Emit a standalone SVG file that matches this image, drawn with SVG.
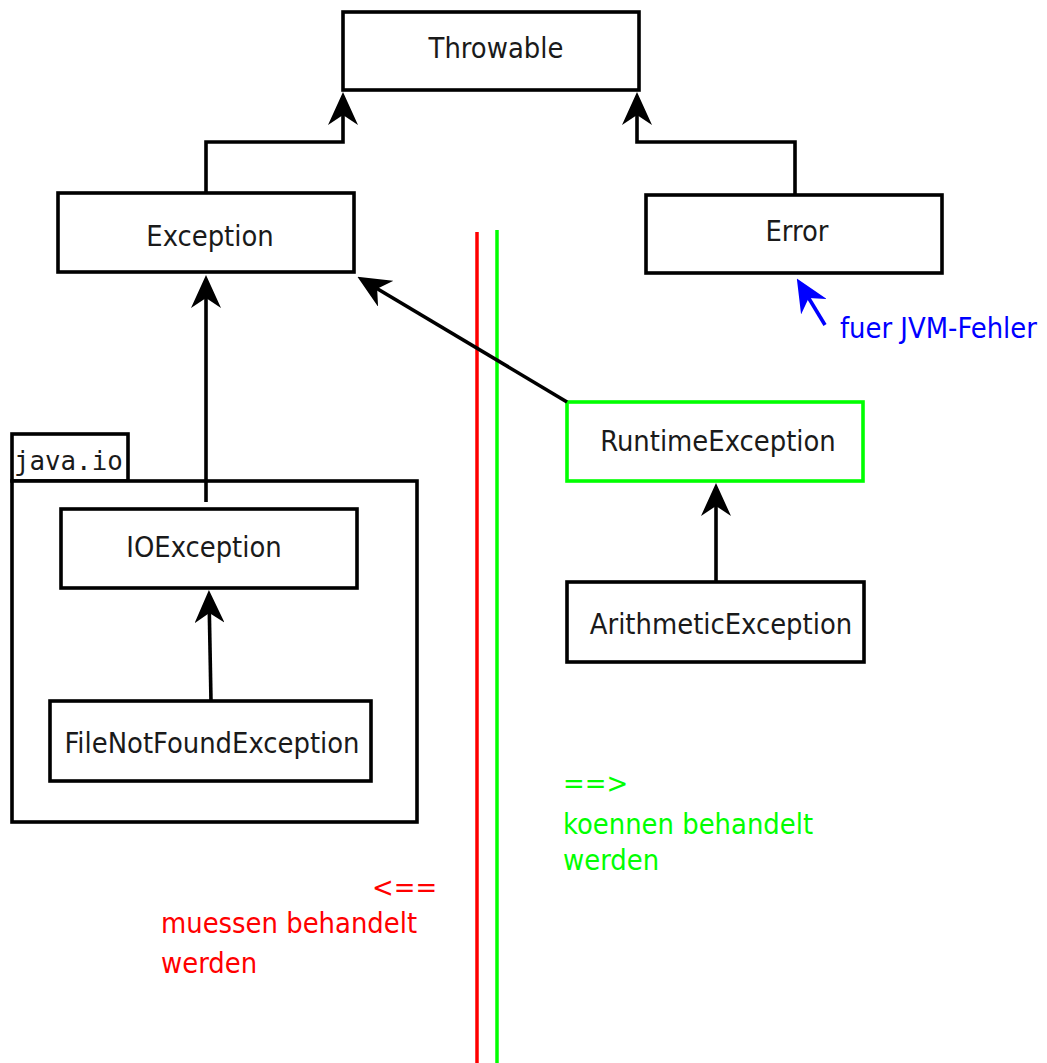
<svg xmlns="http://www.w3.org/2000/svg" width="1047" height="1063" viewBox="0 0 1047 1063">
<style>
.box{fill:#fff;stroke:#000;stroke-width:3.6}
.t{font-family:"DejaVu Sans Condensed","DejaVu Sans",sans-serif;font-stretch:condensed;font-size:28.8px;fill:#1a1a1a;text-anchor:middle}
.c{fill:none;stroke:#000;stroke-width:3.6}
.lbl{font-family:"DejaVu Sans Condensed","DejaVu Sans",sans-serif;font-stretch:condensed;font-size:28.8px}
</style>
<defs>
<marker id="ah" viewBox="-23 -15 33 30" refX="0" refY="0" markerWidth="33" markerHeight="30" markerUnits="userSpaceOnUse" orient="auto">
<path d="M10,0 L-23,-15 L-13,0 L-23,15 Z" fill="#000"/>
</marker>
<marker id="ahb" viewBox="-23 -15 33 30" refX="0" refY="0" markerWidth="33" markerHeight="30" markerUnits="userSpaceOnUse" orient="auto">
<path d="M10,0 L-23,-15 L-13,0 L-23,15 Z" fill="#0000ff"/>
</marker>
</defs>
<rect width="1047" height="1063" fill="#fff"/>
<g id="dividers">
<line x1="477" y1="232" x2="477" y2="1063" stroke="#ff0000" stroke-width="3.5"/>
<line x1="497" y1="230" x2="497" y2="1063" stroke="#00ff00" stroke-width="3.5"/>
</g>
<g id="package-java-io">
<rect x="12" y="434" width="116" height="47" class="box"/>
<rect x="12" y="481" width="405" height="341" class="box"/>
<text x="14" y="470" font-family="DejaVu Sans Mono,monospace" font-size="25.8" fill="#1a1a1a">java.io</text>
</g>
<g id="throwable"><rect x="343" y="12" width="296" height="78" class="box"/><text x="496" y="58" class="t">Throwable</text></g>
<g id="exception"><rect x="58" y="193" width="296" height="79" class="box"/><text x="210" y="246" class="t">Exception</text></g>
<g id="error"><rect x="646" y="195" width="296" height="78" class="box"/><text x="797" y="241" class="t">Error</text></g>
<g id="runtimeexception"><rect x="567" y="402" width="296" height="79" fill="#fff" stroke="#00ff00" stroke-width="3.6"/><text x="718" y="451" class="t">RuntimeException</text></g>
<g id="arithmeticexception"><rect x="567" y="582" width="297" height="80" class="box"/><text x="721" y="634" class="t">ArithmeticException</text></g>
<g id="ioexception"><rect x="61" y="509" width="296" height="79" class="box"/><text x="204" y="557" class="t">IOException</text></g>
<g id="filenotfoundexception"><rect x="50" y="701" width="321" height="80" class="box"/><text x="212" y="753" class="t">FileNotFoundException</text></g>
<g id="connectors">
<path d="M206,193 V142 H343 V102" class="c" marker-end="url(#ah)"/>
<path d="M795,195 V142 H637 V102" class="c" marker-end="url(#ah)"/>
<path d="M206,502 V285" class="c" marker-end="url(#ah)"/>
<path d="M567,402 L366,282" class="c" marker-end="url(#ah)"/>
<path d="M716,582 V493" class="c" marker-end="url(#ah)"/>
<path d="M211,701 L209.1,600" class="c" marker-end="url(#ah)"/>
<path d="M825,325 L802,287" fill="none" stroke="#0000ff" stroke-width="3.6" marker-end="url(#ahb)"/>
</g>
<g id="notes" class="lbl">
<text x="840" y="338" fill="#0000ff">fuer JVM-Fehler</text>
<text x="563" y="793" fill="#00ff00">==&gt;</text>
<text x="563" y="834" fill="#00ff00">koennen behandelt</text>
<text x="563" y="870" fill="#00ff00">werden</text>
<text x="372" y="897" fill="#ff0000">&lt;==</text>
<text x="161" y="933" fill="#ff0000">muessen behandelt</text>
<text x="161" y="973" fill="#ff0000">werden</text>
</g>
</svg>
